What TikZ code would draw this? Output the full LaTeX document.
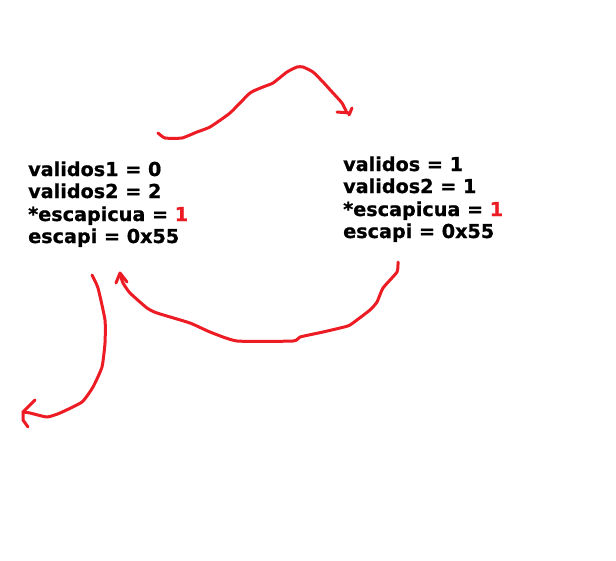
\documentclass[tikz,border=0pt]{standalone}
\usepackage{fontspec}
\setmainfont[BoldFeatures={FakeBold=0.8}]{DejaVu Sans}
\definecolor{paintred}{RGB}{237,28,36}
\tikzset{
  vline/.style={anchor=base west, inner sep=0pt, font=\bfseries\fontsize{19.2}{22}\selectfont},
  stroke/.style={draw=paintred, line width=3pt, line cap=round, line join=round},
}
\begin{document}
\begin{tikzpicture}[x=1pt,y=-1pt]
\useasboundingbox[fill=white] (0,0) rectangle (616,560);
% left block
\node[vline] (l1) at (28,176) {validos1 = 0};
\node[vline] (l2) at (28,198) {validos2 = 2};
\node[vline] (l3) at (28,221) {*escapicua = \textcolor{paintred}{1}};
\node[vline] (l4) at (28,243) {escapi = 0x55};
% right block
\node[vline] (r1) at (343,171) {validos = 1};
\node[vline] (r2) at (343,193) {validos2 = 1};
\node[vline] (r3) at (343,216) {*escapicua = \textcolor{paintred}{1}};
\node[vline] (r4) at (343,238) {escapi = 0x55};
% top arrow
\draw[stroke] plot[smooth, tension=0.3] coordinates {(158,133) (165,138) (182,138) (197,132) (210,127) (230,113) (250,93) (263,87) (273,83) (287,72) (297,67) (303,67) (313,72) (323,82) (333,93) (342,103) (347,113)};
\draw[stroke] (337,112) -- (350,113);
\draw[stroke] (352,108) -- (349,115);
% bottom arrow
\draw[stroke] plot[smooth, tension=0.3] coordinates {(398,262) (397,272) (383,288) (377,302) (370,310) (350,325) (340,328) (323,332) (300,337) (293,341) (237,341) (210,332) (190,323) (157,313) (147,308) (130,293) (123,283) (120,274)};
\draw[stroke] (116,283) -- (120,273) -- (127,282);
% left arrow
\draw[stroke] plot[smooth, tension=0.3] coordinates {(92,275) (98,288) (105,320) (105,343) (102,367) (93,387) (82,402) (60,413) (47,417) (30,413) (23,412)};
\draw[stroke] (35,400) -- (23,412) -- (23,420) -- (28,427);
\end{tikzpicture}
\end{document}
